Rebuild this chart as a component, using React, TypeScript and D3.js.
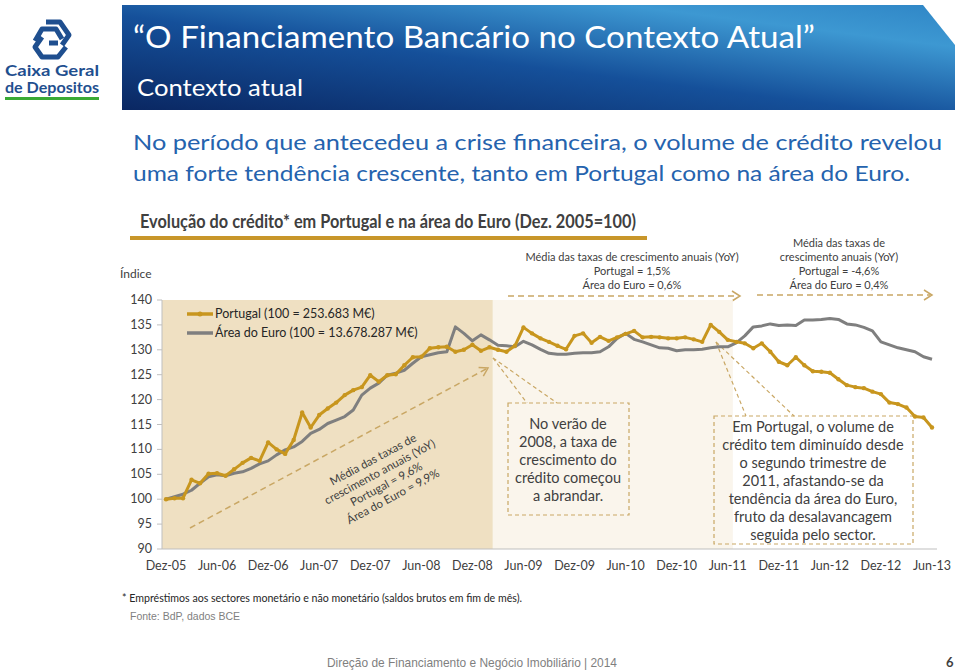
import React from 'react';
import * as d3 from 'd3';

const xTickLabels = ['Dez-05','Jun-06','Dez-06','Jun-07','Dez-07','Jun-08','Dez-08','Jun-09','Dez-09','Jun-10','Dez-10','Jun-11','Dez-11','Jun-12','Dez-12','Jun-13'];
const yTicks = [90, 95, 100, 105, 110, 115, 120, 125, 130, 135, 140];

// Monthly index values, Dec-2005 .. Jun-2013 (91 months)
const portugal = [
  100.0, 100.2, 100.2, 103.9, 103.2, 105.1, 105.2, 104.7, 106.0, 107.3,
  108.3, 107.7, 111.4, 110.0, 109.1, 111.9, 117.4, 114.4, 116.9, 118.2,
  119.4, 120.9, 121.9, 122.5, 124.9, 123.6, 124.9, 125.1, 126.9, 128.5,
  128.6, 130.3, 130.5, 130.6, 129.6, 130.0, 131.0, 129.8, 130.5, 130.0,
  129.6, 130.8, 134.5, 133.3, 132.3, 131.6, 130.8, 130.1, 132.8, 133.3,
  131.4, 132.6, 131.8, 132.5, 133.2, 133.8, 132.5, 132.6, 132.5, 132.3,
  132.3, 132.5, 132.1, 131.6, 135.0, 133.6, 132.0, 131.6, 131.3, 130.3,
  131.3, 129.6, 127.6, 126.9, 128.5, 126.9, 125.7, 125.6, 125.4, 124.1,
  122.9, 122.5, 122.3, 121.6, 121.1, 119.4, 119.1, 118.4, 116.6, 116.4,
  114.4,
];
const euroArea = [
  100.0, 100.5, 101.0, 101.8, 103.2, 104.5, 104.9, 104.7, 105.2, 105.5,
  106.2, 107.1, 107.7, 108.9, 109.9, 110.5, 111.6, 113.2, 114.0, 115.2,
  115.9, 116.6, 117.9, 120.9, 122.3, 123.3, 124.9, 125.3, 125.9, 127.3,
  128.6, 129.0, 129.4, 129.6, 134.6, 133.3, 131.8, 133.0, 132.0, 130.9,
  130.8, 130.6, 131.7, 131.0, 130.1, 129.3, 129.1, 129.1, 129.3, 129.4,
  129.4, 129.6, 130.6, 132.3, 133.3, 132.1, 131.6, 131.0, 130.4, 130.3,
  129.8, 130.0, 130.0, 130.1, 130.4, 130.6, 130.6, 131.4, 132.8, 134.6,
  134.8, 135.2, 134.9, 135.0, 134.9, 136.0, 136.0, 136.1, 136.3, 136.1,
  135.2, 135.0, 134.5, 133.8, 131.6, 131.0, 130.4, 130.0, 129.6, 128.6,
  128.1,
];

const seriesNames = ['Portugal (100 = 253.683 M€)', 'Área do Euro (100 = 13.678.287 M€)'];
const topNote1 = ['Média das taxas de crescimento anuais (YoY)', 'Portugal = 1,5%', 'Área do Euro = 0,6%'];
const topNote2 = ['Média das taxas de', 'crescimento anuais (YoY)', 'Portugal = -4,6%', 'Área do Euro = 0,4%'];
const diagNote = ['Média das taxas de', 'crescimento anuais (YoY)', 'Portugal = 9,6%', 'Área do Euro = 9,9%'];
const box1 = ['No verão de', '2008, a taxa de', 'crescimento do', 'crédito começou', 'a abrandar.'];
const box2 = ['Em Portugal, o volume de', 'crédito tem diminuído desde', 'o segundo trimestre de', '2011, afastando-se da', 'tendência da área do Euro,', 'fruto da desalavancagem', 'seguida pelo sector.'];

const ORANGE = '#c8961e';
const GRAY = '#7f7f7f';
const TAN = '#c9a764';
const FONT = 'Lato, "Open Sans", sans-serif';

function Chevron({ x, y, angle }: { x: number; y: number; angle: number }) {
  return (
    <path d="M-8,-5 L0,0 L-8,5" transform={`translate(${x},${y}) rotate(${angle})`} fill="none" stroke={TAN} strokeWidth={1.5} />
  );
}

export default function App() {
  const x = d3.scaleLinear().domain([0, 90]).range([166, 932]);
  const y = d3.scaleLinear().domain([90, 140]).range([549, 300]);
  const line = d3.line<number>().x((_, i) => x(i)).y((d) => y(d));

  const plotLeft = 162;
  const plotRight = 937;
  const dark1 = x(38.4);
  const light1 = x(66.6);

  // diagonal arrow
  const dx0 = 190, dy0 = 528, dx1 = 488, dy1 = 368;
  const dAng = (Math.atan2(dy1 - dy0, dx1 - dx0) * 180) / Math.PI;

  return (
    <svg width={960} height={671} style={{ position: 'absolute', left: 0, top: 0, background: '#fff' }} fontFamily={FONT}>
      <defs>
        <linearGradient id="ban" x1="0" y1="1" x2="1" y2="0">
          <stop offset="0" stopColor="#0a2762" />
          <stop offset="0.45" stopColor="#15509a" />
          <stop offset="0.8" stopColor="#3d98d2" />
          <stop offset="1" stopColor="#2f86c6" />
        </linearGradient>
      </defs>

      {/* Logo */}
      <g transform="translate(52,39)" fill="none" stroke="#1f4f8f" strokeWidth={5} strokeLinejoin="round">
        <path d="M-6,-17 L8,-17 L17,-4 L10,6" />
        <path d="M-17,2 L-10,-10 L4,-10 L10,0" />
        <path d="M-10,-2 L-17,8 L-10,18 L6,18 L14,8" />
        <path d="M-3,4 L6,4" />
      </g>
      <text x={52} y={76} textAnchor="middle" fontSize={15} fontWeight={700} fill="#1f4f8f" fontFamily="Lato, sans-serif" textLength={94} lengthAdjust="spacingAndGlyphs">Caixa Geral</text>
      <text x={52} y={93} textAnchor="middle" fontSize={15} fontWeight={700} fill="#1f4f8f" fontFamily="Lato, sans-serif" textLength={94} lengthAdjust="spacingAndGlyphs">de Depositos</text>
      <rect x={5} y={97} width={94} height={3} fill="#3aaa35" />

      {/* Banner */}
      <path d="M122,5 L923,5 L955,45 L955,110 L122,110 Z" fill="url(#ban)" />
      <text x={133} y={48} fontSize={31} fill="#fff" textLength={682} lengthAdjust="spacingAndGlyphs">“O Financiamento Bancário no Contexto Atual”</text>
      <text x={137} y={96} fontSize={24} fill="#fff" textLength={166} lengthAdjust="spacingAndGlyphs">Contexto atual</text>

      {/* Subtitle */}
      <text x={133} y={150} fontSize={22} fill="#2563ae" textLength={809} lengthAdjust="spacingAndGlyphs">No período que antecedeu a crise financeira, o volume de crédito revelou</text>
      <text x={133} y={181} fontSize={22} fill="#2563ae" textLength={777} lengthAdjust="spacingAndGlyphs">uma forte tendência crescente, tanto em Portugal como na área do Euro.</text>

      {/* Chart title */}
      <text x={140} y={228} fontSize={18} fontWeight={700} fill="#404040" textLength={496} lengthAdjust="spacingAndGlyphs">Evolução do crédito* em Portugal e na área do Euro (Dez. 2005=100)</text>
      <rect x={130} y={236} width={517} height={4} fill="#c8962a" />

      {/* Top notes */}
      {topNote1.map((t, i) => (
        <text key={t} x={632} y={261 + i * 14} textAnchor="middle" fontSize={11} fill="#404040">{t}</text>
      ))}
      {topNote2.map((t, i) => (
        <text key={t} x={839} y={247 + i * 14} textAnchor="middle" fontSize={11} fill="#404040">{t}</text>
      ))}
      <line x1={508} y1={296} x2={738} y2={296} stroke={TAN} strokeWidth={1.5} strokeDasharray="6,4" />
      <Chevron x={740} y={296} angle={0} />
      <line x1={757} y1={295} x2={930} y2={295} stroke={TAN} strokeWidth={1.5} strokeDasharray="6,4" />
      <Chevron x={932} y={295} angle={0} />

      <text x={120} y={278} fontSize={12} fill="#404040">Índice</text>

      {/* Plot backgrounds */}
      <rect x={plotLeft} y={y(140)} width={dark1 - plotLeft} height={y(90) - y(140)} fill="#efe0c2" />
      <rect x={dark1} y={y(140)} width={light1 - dark1} height={y(90) - y(140)} fill="#faf5ec" />

      {/* Y axis */}
      <line x1={plotLeft} y1={y(140)} x2={plotLeft} y2={y(90)} stroke="#bfbfbf" />
      {yTicks.map((t) => (
        <g key={t}>
          <line x1={plotLeft - 5} x2={plotLeft} y1={y(t)} y2={y(t)} stroke="#bfbfbf" />
          <text x={152} y={y(t) + 4} textAnchor="end" fontSize={12.5} fill="#404040">{t}</text>
        </g>
      ))}
      {/* X axis */}
      <line x1={plotLeft} y1={y(90)} x2={plotRight} y2={y(90)} stroke="#bfbfbf" />
      {xTickLabels.map((t, i) => (
        <text key={t} x={x(i * 6)} y={570} textAnchor="middle" fontSize={12.5} fill="#404040">{t}</text>
      ))}

      {/* Diagonal note */}
      <line x1={dx0} y1={dy0} x2={dx1 - 2} y2={dy1 + 1} stroke={TAN} strokeWidth={1.5} strokeDasharray="6,4" />
      <Chevron x={dx1} y={dy1} angle={dAng} />
      <g transform={`translate(383,478) rotate(${dAng})`}>
        {diagNote.map((t, i) => (
          <text key={t} x={0} y={-17 + i * 14} textAnchor="middle" fontSize={11.5} fill="#404040">{t}</text>
        ))}
      </g>

      {/* Callouts */}
      <g fill="none" stroke={TAN} strokeWidth={1.2} strokeDasharray="4,3">
        <line x1={493} y1={358} x2={527} y2={403} />
        <line x1={493} y1={358} x2={557} y2={403} />
        <rect x={508} y={403} width={121} height={112} />
        <line x1={716} y1={342} x2={746} y2={416} />
        <line x1={716} y1={342} x2={794} y2={416} />
        <rect x={714} y={416} width={199} height={128} />
      </g>
      {box1.map((t, i) => (
        <text key={t} x={568} y={429 + i * 18} textAnchor="middle" fontSize={14.5} fill="#404040">{t}</text>
      ))}
      {box2.map((t, i) => (
        <text key={t} x={813} y={432 + i * 18} textAnchor="middle" fontSize={14.5} fill="#404040">{t}</text>
      ))}

      {/* Series */}
      <path d={line(euroArea) || ''} fill="none" stroke={GRAY} strokeWidth={3} strokeLinejoin="round" />
      <path d={line(portugal) || ''} fill="none" stroke={ORANGE} strokeWidth={3} strokeLinejoin="round" />
      {portugal.map((v, i) => (
        <circle key={i} cx={x(i)} cy={y(v)} r={2.2} fill={ORANGE} />
      ))}

      {/* Legend */}
      <line x1={187} x2={213} y1={314} y2={314} stroke={ORANGE} strokeWidth={3.5} />
      <circle cx={200} cy={314} r={2.5} fill={ORANGE} />
      <text x={215} y={318} fontSize={12.5} fill="#262626">{seriesNames[0]}</text>
      <line x1={187} x2={213} y1={333} y2={333} stroke={GRAY} strokeWidth={3.5} />
      <text x={215} y={337} fontSize={12.5} fill="#262626">{seriesNames[1]}</text>

      {/* Footer */}
      <text x={122} y={602} fontSize={11} fill="#262626" textLength={400} lengthAdjust="spacingAndGlyphs">* Empréstimos aos sectores monetário e não monetário (saldos brutos em fim de mês).</text>
      <text x={130} y={620} fontSize={10.5} fill="#7f7f7f" fontFamily="'Liberation Sans', Arial, sans-serif">Fonte: BdP, dados BCE</text>
      <text x={327} y={667} fontSize={13} fill="#7f7f7f" fontFamily="'Liberation Sans', Arial, sans-serif" textLength={290} lengthAdjust="spacingAndGlyphs">Direção de Financiamento e Negócio Imobiliário |  2014</text>
      <text x={946} y={667} fontSize={13} fontWeight={700} fill="#404040">6</text>
    </svg>
  );
}
